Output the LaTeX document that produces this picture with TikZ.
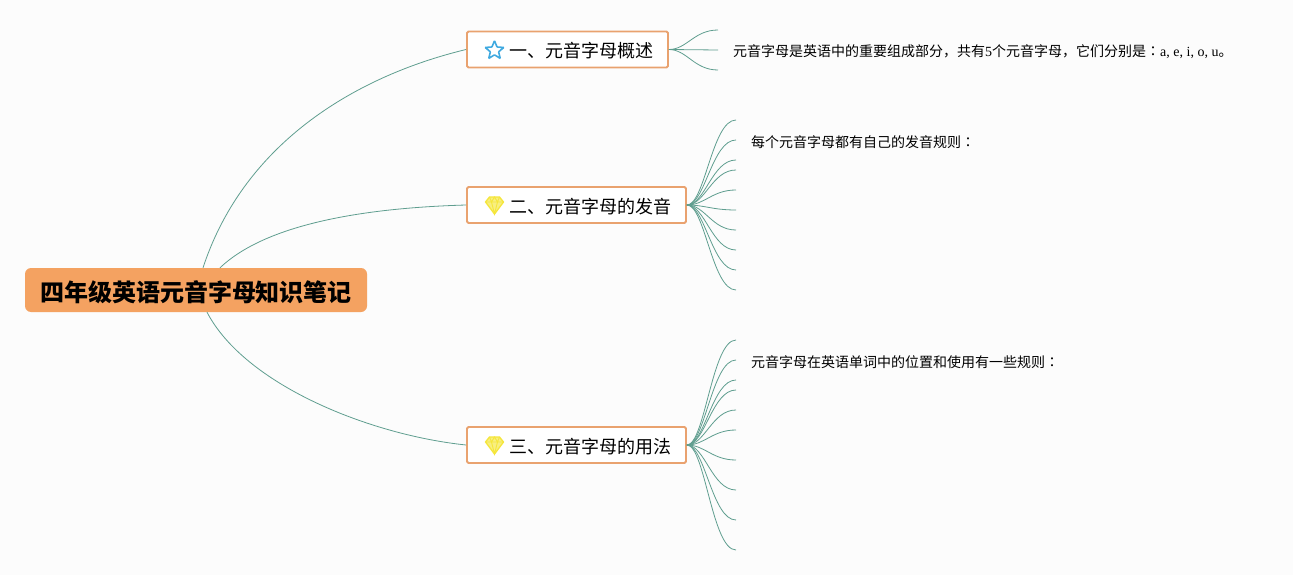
\documentclass[tikz,border=0pt]{standalone}
\usepackage{fontspec}
\setmainfont{Liberation Serif}
\newfontfamily\cjk{Noto Sans CJK SC}
\newfontfamily\cjktc{Noto Sans CJK TC}
\usetikzlibrary{shapes.geometric}

\definecolor{pagegray}{HTML}{FCFCFC}
\definecolor{rootorange}{HTML}{F4A261}
\definecolor{boxorange}{HTML}{E9A26F}
\definecolor{branchgreen}{HTML}{5F9E8F}
\definecolor{iconblue}{HTML}{3FA9E0}
\definecolor{iconyellow}{HTML}{F5E63C}

\tikzset{
rootbox/.style={fill=rootorange,rounded corners=6pt,minimum width=342pt,minimum height=44pt,inner sep=0pt,text height=22pt,text depth=0pt,font=\cjk\bfseries\fontsize{24}{28}\selectfont},
secbox/.style={draw=boxorange,line width=1.8pt,fill=white,rounded corners=1.5pt,minimum height=36pt,inner sep=0pt,text height=17pt,text depth=0pt,font=\cjk\fontsize{18}{22}\selectfont},
notetext/.style={anchor=west,inner sep=0pt,font=\cjk\fontsize{14}{18}\selectfont},
branch/.style={draw=branchgreen,line width=0.8pt},
staricon/.style={star,star points=5,star point ratio=2.25,draw=iconblue,line width=1.6pt,rounded corners=0.6pt,minimum size=19.5pt,inner sep=0pt},
gem/.pic={
\draw[iconyellow,line width=1.3pt,line join=round,fill=iconyellow!65]
(-9,-3) -- (-5,-8) -- (5,-8) -- (9,-3) -- (0,9) -- cycle;
\draw[iconyellow,line width=0.9pt]
(-9,-3) -- (9,-3)
(-5,-8) -- (-3,-3) -- (0,-8) -- (3,-3) -- (5,-8)
(-3,-3) -- (0,9) -- (3,-3);
}
}

\begin{document}
\begin{tikzpicture}[x=1pt,y=-1pt]
\useasboundingbox[fill=pagegray] (0,0) rectangle (1293,575);

% root and sections
\node[rootbox] (root) at (196,290) {四年级英语元音字母知识笔记};
\node[secbox,minimum width=201pt] (sec1) at (567.5,49.5) {\hspace*{28pt}一、元音字母概述};
\node[secbox,minimum width=219pt] (sec2) at (576.5,205) {\hspace*{27pt}二、元音字母的发音};
\node[secbox,minimum width=219pt] (sec3) at (576.5,445) {\hspace*{27pt}三、元音字母的用法};

\node[staricon] (icon1) at (494.5,50.5) {};
\pic at (494.5,205) {gem};
\pic at (494.5,445) {gem};

% from the root
\draw[branch] ([xshift=7pt]root.north) .. controls (245,140) and (360,75) .. (sec1.west);
\draw[branch] ([xshift=24pt]root.north) .. controls (265,225) and (360,208) .. (sec2.west);
\draw[branch] ([xshift=11pt]root.south) .. controls (245,385) and (370,435) .. (sec3.west);

% first section
\draw[branch] (sec1.east) .. controls +(18,0) and +(-24,0) .. (718,30) coordinate (a1);
\draw[branch] (sec1.east) -- (718,50) coordinate (a2);
\draw[branch] (sec1.east) .. controls +(18,0) and +(-24,0) .. (718,70) coordinate (a3);

% second section
\draw[branch] (sec2.east) .. controls +(18,0) and +(-24,0) .. (736,120) coordinate (b1);
\draw[branch] (sec2.east) .. controls +(18,0) and +(-24,0) .. (736,140) coordinate (b2);
\draw[branch] (sec2.east) .. controls +(18,0) and +(-24,0) .. (736,160) coordinate (b3);
\draw[branch] (sec2.east) .. controls +(18,0) and +(-24,0) .. (736,170) coordinate (b4);
\draw[branch] (sec2.east) .. controls +(18,0) and +(-24,0) .. (736,190) coordinate (b5);
\draw[branch] (sec2.east) .. controls +(18,0) and +(-24,0) .. (736,210) coordinate (b6);
\draw[branch] (sec2.east) .. controls +(18,0) and +(-24,0) .. (736,230) coordinate (b7);
\draw[branch] (sec2.east) .. controls +(18,0) and +(-24,0) .. (736,250) coordinate (b8);
\draw[branch] (sec2.east) .. controls +(18,0) and +(-24,0) .. (736,270) coordinate (b9);
\draw[branch] (sec2.east) .. controls +(18,0) and +(-24,0) .. (736,290) coordinate (b10);

% third section
\draw[branch] (sec3.east) .. controls +(18,0) and +(-24,0) .. (736,340) coordinate (c1);
\draw[branch] (sec3.east) .. controls +(18,0) and +(-24,0) .. (736,360) coordinate (c2);
\draw[branch] (sec3.east) .. controls +(18,0) and +(-24,0) .. (736,380) coordinate (c3);
\draw[branch] (sec3.east) .. controls +(18,0) and +(-24,0) .. (736,390) coordinate (c4);
\draw[branch] (sec3.east) .. controls +(18,0) and +(-24,0) .. (736,410) coordinate (c5);
\draw[branch] (sec3.east) .. controls +(18,0) and +(-24,0) .. (736,430) coordinate (c6);
\draw[branch] (sec3.east) .. controls +(18,0) and +(-24,0) .. (736,460) coordinate (c7);
\draw[branch] (sec3.east) .. controls +(18,0) and +(-24,0) .. (736,490) coordinate (c8);
\draw[branch] (sec3.east) .. controls +(18,0) and +(-24,0) .. (736,520) coordinate (c9);
\draw[branch] (sec3.east) .. controls +(18,0) and +(-24,0) .. (736,550) coordinate (c10);

% notes
\node[notetext] (note1) at (733,52) {元音字母是英语中的重要组成部分，共有{\rmfamily 5}个元音字母，它们分别是{\cjktc ：}{\rmfamily a, e, i, o, u}。};
\node[notetext] (note2) at (751,142) {每个元音字母都有自己的发音规则{\cjktc ：}};
\node[notetext] (note3) at (751,362) {元音字母在英语单词中的位置和使用有一些规则{\cjktc ：}};

\end{tikzpicture}
\end{document}
